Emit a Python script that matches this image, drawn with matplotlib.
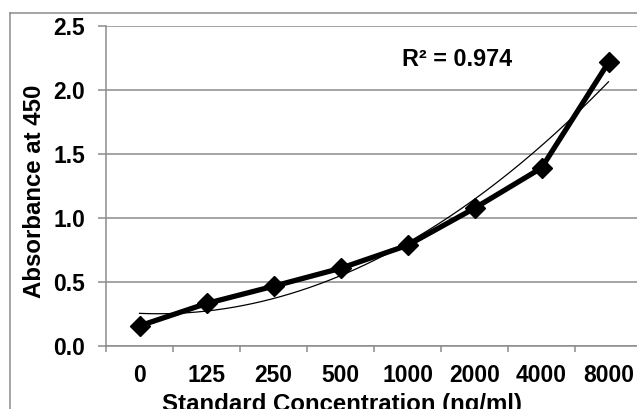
import numpy as np
import matplotlib.pyplot as plt
from matplotlib.lines import Line2D

plt.rcParams['font.family'] = ['Liberation Sans', 'DejaVu Sans']
plt.rcParams['font.weight'] = 'bold'

categories = ['0', '125', '250', '500', '1000', '2000', '4000', '8000']
absorbance = [0.155, 0.33, 0.465, 0.605, 0.785, 1.075, 1.39, 2.215]
r2_label = 'R² = 0.974'

W, H = 637, 409
fs = 16.5
fig = plt.figure(figsize=(W / 100, H / 100), dpi=100)
ax = fig.add_axes([106 / W, 1 - 345.7 / H, 536 / W, 319.7 / H])

x = np.arange(len(categories))
grid_c = '#8c8c8c'

# polynomial (order 2) trendline like Excel
coef = np.polyfit(x, absorbance, 2)
xf = np.linspace(0, len(categories) - 1, 200)
ax.plot(xf, np.polyval(coef, xf), color='black', lw=0.9, zorder=3)

ax.plot(x, absorbance, color='black', lw=3.8, marker='D', markersize=9.8,
        zorder=4)

ax.set_xlim(-0.5, len(categories) - 0.5)
ax.set_ylim(0, 2.5)
ax.set_yticks(np.arange(0, 2.51, 0.5))
ax.set_yticklabels(['%.1f' % v for v in np.arange(0, 2.51, 0.5)])
ax.yaxis.grid(True, color=grid_c, lw=1.1)
ax.set_axisbelow(True)

ax.set_xticks(x)
ax.set_xticklabels(categories)
ax.set_xticks(np.arange(-0.5, len(categories), 1), minor=True)
ax.tick_params(axis='x', which='major', length=0, pad=13, labelsize=fs)
ax.tick_params(axis='x', which='minor', length=4.5, color=grid_c, width=1.1)
ax.tick_params(axis='y', length=6, color=grid_c, width=1.1, pad=9,
               labelsize=fs)

for s in ['top', 'right']:
    ax.spines[s].set_visible(False)
for s in ['left', 'bottom']:
    ax.spines[s].set_color(grid_c)
    ax.spines[s].set_linewidth(1.1)

fig.text(457.5 / W, 1 - 60 / H, r2_label, fontsize=16.8,
         fontweight='bold', va='center', ha='center')

fig.text(34.5 / W, 1 - 191.5 / H, 'Absorbance at 450', rotation=90,
         fontsize=17.3, fontweight='bold', va='center', ha='center')
fig.text(342 / W, 1 - 404 / H, 'Standard Concentration (ng/ml)',
         fontsize=17.3, fontweight='bold', va='center', ha='center')

# chart area border
fig.add_artist(Line2D([10 / W, 10 / W], [-0.1, 1 - 13 / H], color=grid_c,
                      lw=1.1, transform=fig.transFigure))
fig.add_artist(Line2D([10 / W, 1.1], [1 - 13 / H, 1 - 13 / H], color=grid_c,
                      lw=1.1, transform=fig.transFigure))

fig.savefig('out.png', dpi=100)
